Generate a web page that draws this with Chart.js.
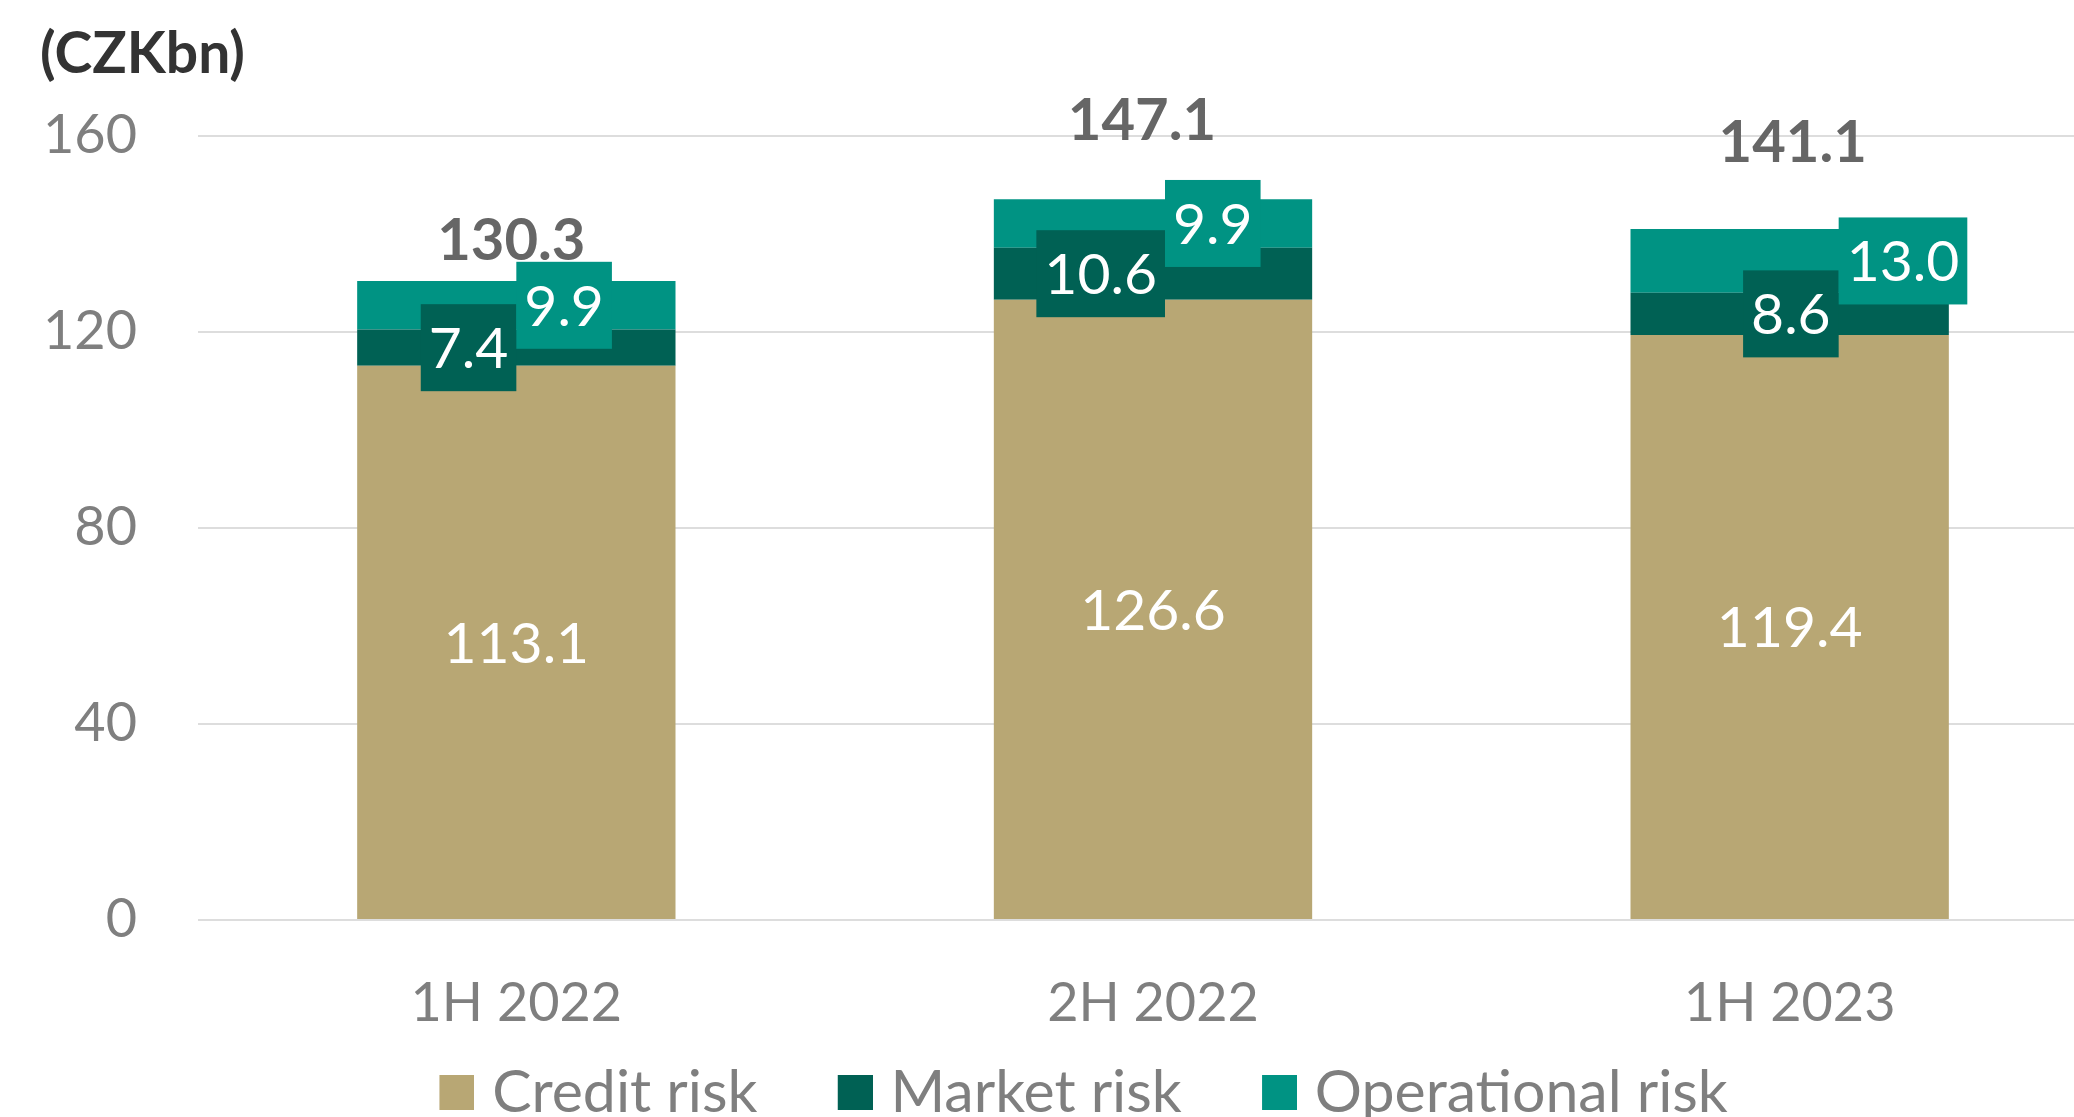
<!DOCTYPE html>
<html>
<head>
<meta charset="utf-8">
<title>Risk-weighted exposure</title>
<script src="https://cdn.jsdelivr.net/npm/chart.js@4.4.1/dist/chart.umd.min.js"></script>
<style>
  html, body { margin: 0; padding: 0; overflow: hidden; background: #ffffff; width: 2074px; height: 1117px; }
  #wrap { position: relative; width: 2108px; height: 1132px; }
  canvas { display: block; }
</style>
</head>
<body>
<div id="wrap"><canvas id="chart" width="2108" height="1132" style="width:2108px;height:1132px"></canvas></div>
<script>
// Periods and risk components (CZK bn)
const categories = ['1H 2022', '2H 2022', '1H 2023'];
const seriesNames = ['Credit risk', 'Market risk', 'Operational risk'];
const creditRisk = [113.1, 126.6, 119.4];
const marketRisk = [7.4, 10.6, 8.6];
const operationalRisk = [9.9, 9.9, 13.0];
const totals = [130.3, 147.1, 141.1];
const yTicks = [0, 40, 80, 120, 160];
const unitLabel = '(CZKbn)';

// Styling
const seriesColors = ['#B8A774', '#006154', '#009383'];
const FONT = 'Lato, "Open Sans", sans-serif';
const VALUE_SIZE = 57;
const labelSplit = [0, 12, 49];    // shift of the market/operational tag seam from the bar centre (px)
const totalLift = [40, 78, 86];    // height of the total label above the stack top (px)
const totalShift = [-5, -11, 3];   // horizontal nudge of the total label (px)
const TAG_PAD = 8;
const TAG_HEIGHT = 87;

// Legend swatch: a 35px square sitting at the right end of a wider transparent tile,
// so the gap before each swatch is wider than the gap before its text.
const LEGEND_SIZE = 59;
const SWATCH = 35, SWATCH_SLOT = 78.5, SWATCH_TILE = 101.5;
function makeSwatch(color) {
  const c = document.createElement('canvas');
  c.width = Math.round(SWATCH_TILE);
  c.height = SWATCH;
  const g = c.getContext('2d');
  g.fillStyle = color;
  g.fillRect(c.width - SWATCH, 0, SWATCH, SWATCH);
  return c;
}

const fmt = v => v.toFixed(1);

function drawTag(ctx, text, seamX, cy, fill, side) {
  const w = ctx.measureText(text).width + TAG_PAD * 2;
  const x0 = side === 'left' ? seamX - w : seamX;
  ctx.fillStyle = fill;
  ctx.fillRect(x0, cy - TAG_HEIGHT / 2, w, TAG_HEIGHT);
  ctx.fillStyle = '#ffffff';
  ctx.fillText(text, x0 + w / 2, cy + 2);
}

const valueLabels = {
  id: 'valueLabels',
  afterDatasetsDraw(chart) {
    const ctx = chart.ctx;
    const metas = [0, 1, 2].map(i => chart.getDatasetMeta(i));
    ctx.save();
    ctx.textAlign = 'center';
    ctx.textBaseline = 'middle';
    categories.forEach((_, j) => {
      const credit = metas[0].data[j];
      const market = metas[1].data[j];
      const oper = metas[2].data[j];
      ctx.font = VALUE_SIZE + 'px ' + FONT;
      ctx.fillStyle = '#ffffff';
      ctx.fillText(fmt(creditRisk[j]), credit.x, (credit.y + credit.base) / 2 + 2);
      const seam = market.x + labelSplit[j];
      drawTag(ctx, fmt(marketRisk[j]), seam, (market.y + market.base) / 2, seriesColors[1], 'left');
      drawTag(ctx, fmt(operationalRisk[j]), seam, (oper.y + oper.base) / 2, seriesColors[2], 'right');
      ctx.font = 'bold 58px ' + FONT;
      ctx.fillStyle = '#666666';
      ctx.fillText(fmt(totals[j]), oper.x + totalShift[j], oper.y - totalLift[j]);
    });
    ctx.restore();
  }
};

// Unit caption in the top-left corner
const unitCaption = {
  id: 'unitCaption',
  afterDraw(chart) {
    const ctx = chart.ctx;
    ctx.save();
    ctx.font = 'bold 57px ' + FONT;
    ctx.fillStyle = '#333333';
    ctx.textAlign = 'left';
    ctx.textBaseline = 'middle';
    ctx.fillText(unitLabel, 40, 55);
    ctx.restore();
  }
};

function build() {
  const swatches = seriesColors.map(makeSwatch);
  new Chart(document.getElementById('chart'), {
    type: 'bar',
    data: {
      labels: categories,
      datasets: [
        { label: seriesNames[0], data: creditRisk, backgroundColor: seriesColors[0], borderWidth: 0 },
        { label: seriesNames[1], data: marketRisk, backgroundColor: seriesColors[1], borderWidth: 0 },
        { label: seriesNames[2], data: operationalRisk, backgroundColor: seriesColors[2], borderWidth: 0 }
      ]
    },
    options: {
      responsive: false,
      animation: false,
      devicePixelRatio: 1,
      layout: { padding: { left: 4, right: 0, top: 136, bottom: 0 } },
      datasets: { bar: { categoryPercentage: 1.0, barPercentage: 0.5 } },
      scales: {
        x: {
          stacked: true,
          grid: { display: false, drawTicks: false },
          border: { display: false },
          ticks: { color: '#7F7F7F', font: { family: FONT, size: 54 }, padding: 51, maxRotation: 0 },
          afterFit(scale) { scale.height = 118; }
        },
        y: {
          stacked: true,
          min: yTicks[0],
          max: yTicks[yTicks.length - 1],
          afterBuildTicks(scale) { scale.ticks = yTicks.map(v => ({ value: v })); },
          grid: { color: '#DDDDDD', lineWidth: 2, drawTicks: false },
          border: { display: false },
          ticks: { color: '#7F7F7F', font: { family: FONT, size: 54 }, padding: 61 },
          afterFit(scale) { scale.width = 194; }
        }
      },
      plugins: {
        tooltip: { enabled: false },
        title: { display: false },
        legend: {
          position: 'bottom',
          labels: {
            usePointStyle: true,
            pointStyleWidth: SWATCH_SLOT,
            boxHeight: SWATCH,
            padding: 25,
            color: '#7F7F7F',
            font: { family: FONT, size: LEGEND_SIZE },
            generateLabels(chart) {
              const items = Chart.defaults.plugins.legend.labels.generateLabels(chart);
              items.forEach((item, i) => { item.pointStyle = swatches[i]; });
              return items;
            }
          }
        }
      }
    },
    plugins: [valueLabels, unitCaption]
  });
}

if (document.fonts && document.fonts.load) {
  Promise.all([
    document.fonts.load('54px Lato'),
    document.fonts.load('bold 54px Lato')
  ]).then(build, build);
} else {
  build();
}
</script>
</body>
</html>
